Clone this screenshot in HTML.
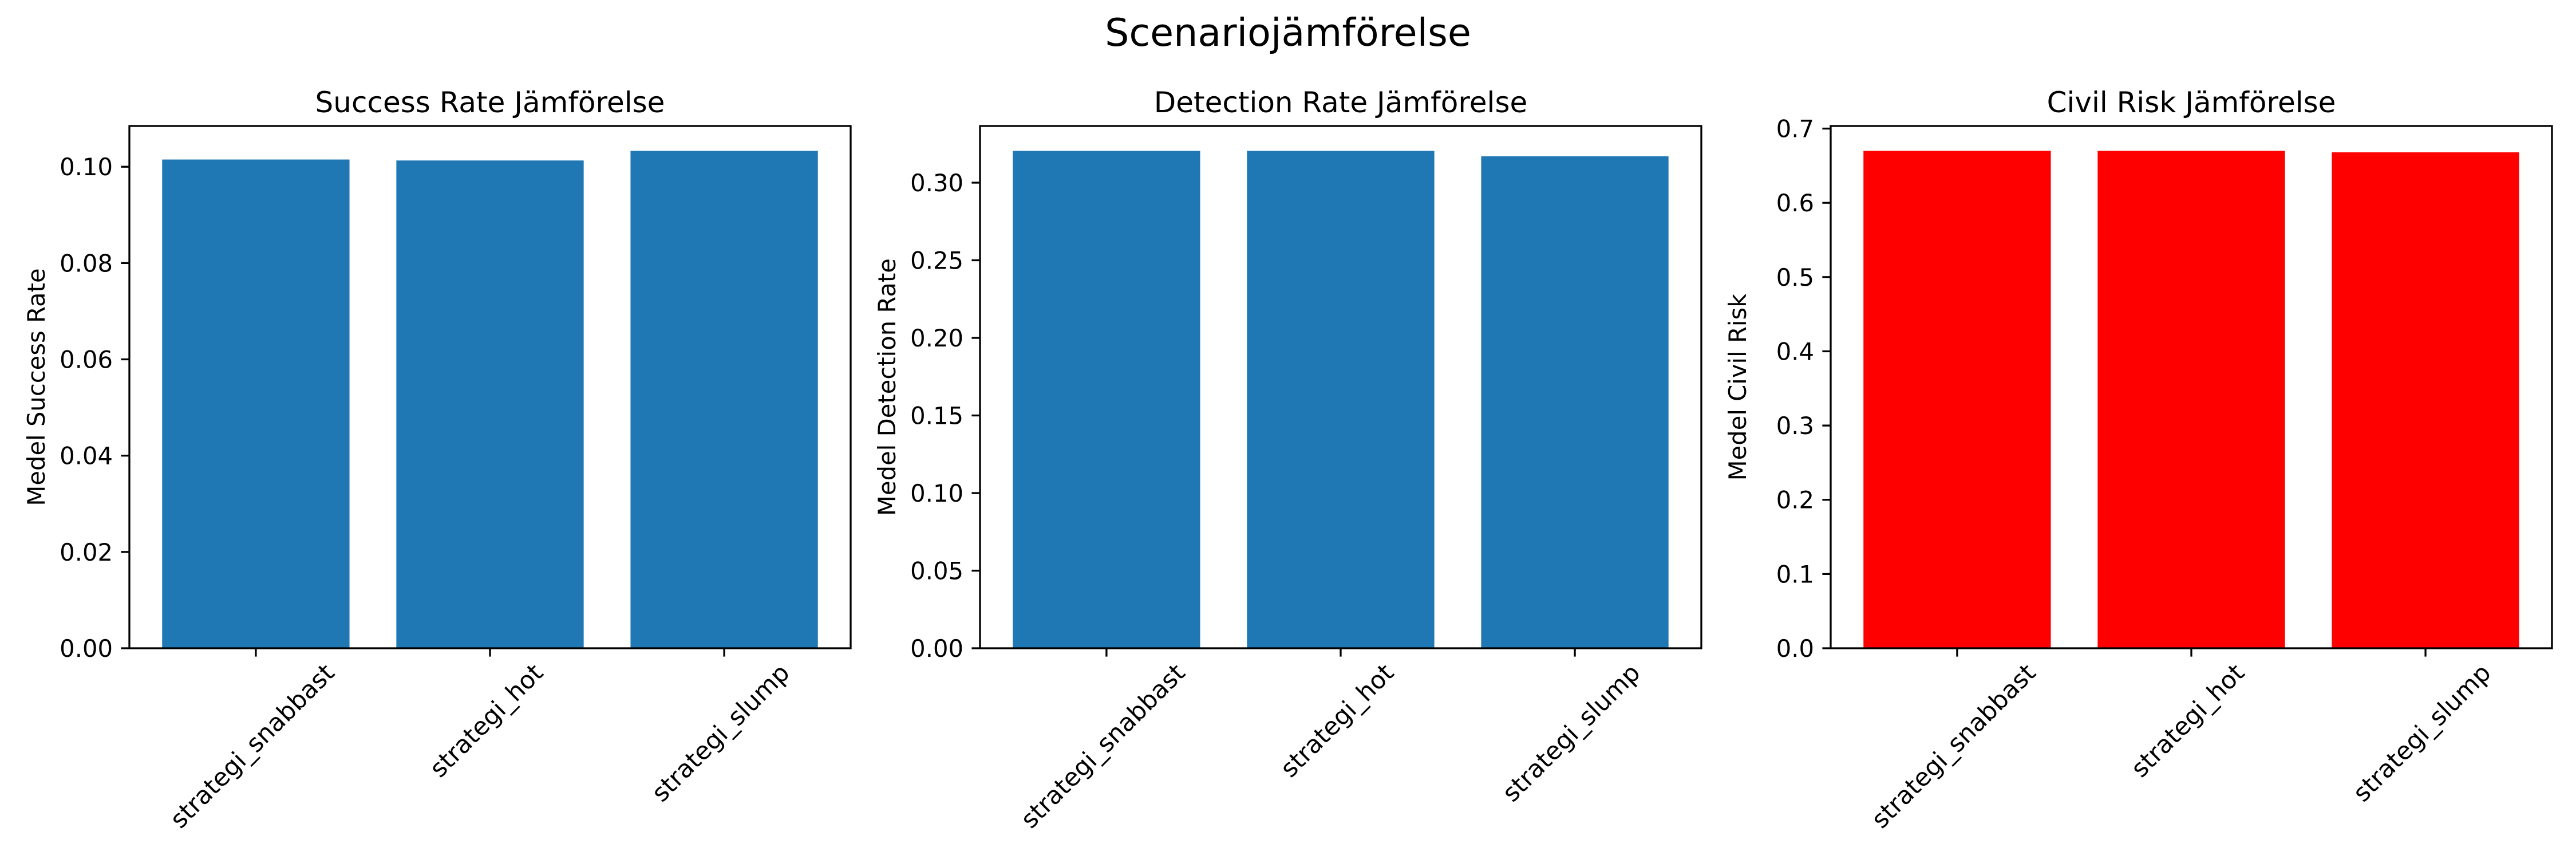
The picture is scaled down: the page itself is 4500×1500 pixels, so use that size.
<!DOCTYPE html>
<html><head><meta charset="utf-8">
<style>html,body{margin:0;padding:0;background:#fff}svg{display:block}text{font-family:"DejaVu Sans","Liberation Sans",sans-serif;fill:#000}</style>
</head><body>
<svg id="fig" width="4500" height="1500" viewBox="0 0 4500 1500" xmlns="http://www.w3.org/2000/svg">
<text x="2250" y="80" font-size="66.7" text-anchor="middle">Scenariojämförelse</text>
</svg>
<script>
const categories = ["strategi_snabbast", "strategi_hot", "strategi_slump"];
const successValues = [0.1015, 0.1013, 0.1033];
const detectionValues = [0.3205, 0.3205, 0.317];
const civilValues = [0.670, 0.670, 0.668];
const successTicks = ["0.00","0.02","0.04","0.06","0.08","0.10"];
const detectionTicks = ["0.00","0.05","0.10","0.15","0.20","0.25","0.30"];
const civilTicks = ["0.0","0.1","0.2","0.3","0.4","0.5","0.6","0.7"];
const panelTitles = ["Success Rate Jämförelse","Detection Rate Jämförelse","Civil Risk Jämförelse"];
const yLabels = ["Medel Success Rate","Medel Detection Rate","Medel Civil Risk"];

const NS = "http://www.w3.org/2000/svg";
const svg = document.getElementById('fig');
function mk(tag, attrs, parent){
  const e = document.createElementNS(NS, tag);
  for (const k in attrs) e.setAttribute(k, attrs[k]);
  (parent||svg).appendChild(e);
  return e;
}
const panels = [
  {vals: successValues, ticks: successTicks, color: "#1f77b4", key: "success"},
  {vals: detectionValues, ticks: detectionTicks, color: "#1f77b4", key: "detection"},
  {vals: civilValues, ticks: civilTicks, color: "#ff0000", key: "civil"}
];
const L0 = 226, PW = 1260, STEP = 1486, TOP = 220, BOT = 1132;
panels.forEach((p, pi) => {
  const left = L0 + pi*STEP;
  const g = mk('g', {});
  
  
  const ymax = Math.max(...p.vals) * 1.05;
  const xmin = -0.54, xmax = categories.length - 1 + 0.54;
  const xs = v => left + (v - xmin) / (xmax - xmin) * PW;
  const ys = v => BOT - v / ymax * (BOT - TOP);
  p.vals.forEach((v, i) => {
    const r = mk('rect', {x: xs(i-0.4), y: ys(v), width: xs(i+0.4)-xs(i-0.4), height: BOT - ys(v), fill: p.color}, g);
    
    
  });
  const fr = mk('rect', {x: left, y: TOP, width: PW, height: BOT-TOP, fill: "none", stroke: "#000", "stroke-width": 3.3}, g);
  
  
  p.ticks.forEach(t => {
    const v = parseFloat(t), y = ys(v);
    mk('line', {x1: left-14.6, x2: left, y1: y, y2: y, stroke: "#000", "stroke-width": 3.3}, g);
    const tx = mk('text', {x: left-29, y: y+15, "font-size": 41.7, "text-anchor": "end"}, g);
    tx.textContent = t;
    
    
  });
  categories.forEach((c, i) => {
    const x = xs(i);
    mk('line', {x1: x, x2: x, y1: BOT, y2: BOT+14.6, stroke: "#000", "stroke-width": 3.3}, g);
    const tx = mk('text', {"font-size": 43, "text-anchor": "middle"}, g);
    tx.textContent = c;
    
    
    const w = tx.getComputedTextLength();
    const h = 43 * 1.16;
    const halfV = (w/2)*Math.SQRT1_2 + (h/2)*Math.SQRT1_2;
    const cy = BOT + 29 + halfV - 12;
    const off = 0.36*43;
    const bx = x + 15 - off*Math.SQRT1_2, by = cy + off*Math.SQRT1_2;
    tx.setAttribute('transform', `translate(${bx},${by}) rotate(-45)`);
  });
  const ti = mk('text', {x: left+PW/2, y: 196, "font-size": 50, "text-anchor": "middle"}, g);
  ti.textContent = panelTitles[pi];
  
  
  const yl = mk('text', {"font-size": 41.7, "text-anchor": "middle", transform: `translate(${left-148},${(TOP+BOT)/2}) rotate(-90)`}, g);
  yl.textContent = yLabels[pi];
  
  
});
</script>
</body></html>
